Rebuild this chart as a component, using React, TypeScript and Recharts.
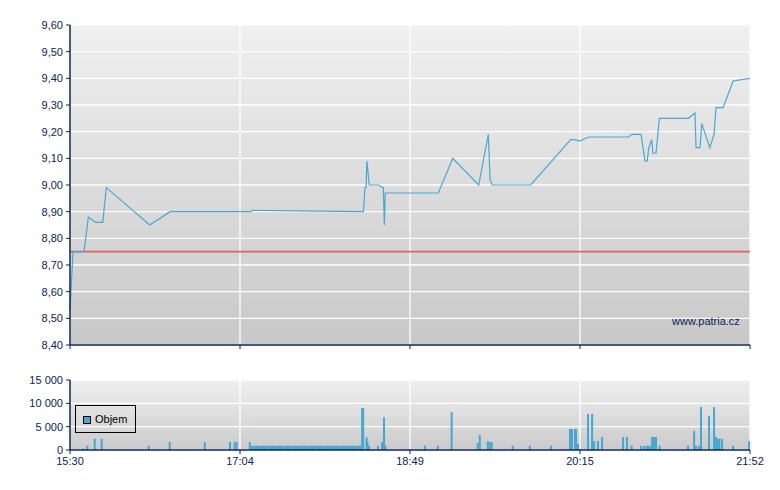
import React from 'react';
import { LineChart, Line, BarChart, Bar, XAxis, YAxis, CartesianGrid, ReferenceLine } from 'recharts';

// x positions are minutes-like units on the session scale (0 = 15:30, 382 = 21:52)
const xTicks = [0, 95.5, 191, 286.5, 382];
const xTickLabels = ['15:30', '17:04', '18:49', '20:15', '21:52'];

const priceTicks = [8.4, 8.5, 8.6, 8.7, 8.8, 8.9, 9.0, 9.1, 9.2, 9.3, 9.4, 9.5, 9.6];
const volumeTicks = [0, 5000, 10000, 15000];
const previousClose = 8.75;

const priceTimes = [
  0, 1.7, 7.9, 10.3, 14.4, 18.4, 20.4, 44.8, 56.3, 101.5, 102.4, 164.8, 165.7, 166.3, 166.8, 168.1,
  173.4, 175.7, 176.0, 176.6, 177.1, 206.9, 215.0, 229.6, 235.0, 236.0, 237.2, 258.8, 281.3, 283.7,
  286.0, 291.6, 313.7, 315.7, 320.8, 323.0, 324.3, 325.1, 326.8, 327.4, 329.2, 331.1, 347.4, 351.1,
  351.7, 353.9, 354.9, 359.4, 361.8, 362.9, 366.9, 372.5, 382,
];
const priceValues = [
  8.53, 8.75, 8.75, 8.88, 8.86, 8.86, 8.99, 8.85, 8.9, 8.9, 8.905, 8.9, 8.99, 8.99, 9.09, 9.0,
  9.0, 8.99, 8.99, 8.85, 8.97, 8.97, 9.1, 9.0, 9.19, 9.02, 9.0, 9.0, 9.17, 9.17,
  9.165, 9.18, 9.18, 9.19, 9.19, 9.09, 9.09, 9.14, 9.17, 9.12, 9.12, 9.25, 9.25, 9.27,
  9.14, 9.14, 9.23, 9.14, 9.19, 9.29, 9.29, 9.39, 9.4,
];

const volumeTimes = [
  7.5, 9.7, 13.9, 17.8, 44.2, 56.0, 75.7, 89.9, 92.5, 93.6, 101.0,
  102, 103, 104, 105, 106, 107, 108, 109, 110, 111, 112, 113, 114, 115, 116, 117, 118, 119, 120, 121,
  122, 123, 124, 125, 126, 127, 128, 129, 130, 131, 132, 133, 134, 135, 136, 137, 138, 139, 140, 141,
  142, 143, 144, 145, 146, 147, 148, 149, 150, 151, 152, 153, 154, 155, 156, 157, 158, 159, 160, 161,
  162, 163,
  164.1, 164.7, 166.6, 167.1, 168.0, 173.0, 175.3, 176.4, 177.2,
  199.4, 206.6, 214.4, 229.0, 230.2, 234.7, 235.8, 236.9, 248.7, 258.3, 270.2,
  280.9, 282.0, 283.7, 284.3, 285.4, 291.0, 293.3, 294.4, 296.6, 298.9, 310.7, 312.9, 315.5,
  320.8, 322.5, 323.9, 324.7, 326.0, 327.0, 328.1, 329.2, 331.2,
  347.2, 350.6, 351.7, 353.4, 354.5, 359.0, 361.8, 362.9, 364.0, 364.8, 366.3, 372.5, 381.5,
];
const volumeValues = [
  300, 900, 2400, 2400, 900, 1700, 1700, 1700, 1700, 1700, 1700,
  900, 900, 900, 900, 900, 900, 900, 900, 900, 900, 900, 900, 900, 900, 900, 900, 900, 900, 900, 900,
  900, 900, 900, 900, 900, 900, 900, 900, 900, 900, 900, 900, 900, 900, 900, 900, 900, 900, 900, 900,
  900, 900, 900, 900, 900, 900, 900, 900, 900, 900, 900, 900, 900, 900, 900, 900, 900, 900, 900, 900,
  900, 900,
  9000, 9000, 2700, 1800, 900, 900, 1700, 7000, 900,
  900, 900, 8100, 1500, 3200, 1900, 1700, 1700, 900, 900, 900,
  4500, 4500, 4500, 4500, 1300, 7700, 7700, 1900, 1900, 2800, 2800, 2800, 900,
  900, 900, 900, 900, 900, 2800, 2800, 2800, 900,
  900, 4100, 900, 900, 9200, 7300, 9200, 2800, 2400, 2400, 2400, 900, 1900,
];

const priceData = priceTimes.map((t, i) => ({ t, p: priceValues[i] }));
const volumeData = volumeTimes.map((t, i) => ({ t, v: volumeValues[i] }));

const NAVY = '#0b2457';
const LINE = '#4aa7d1';
const BAR = '#48a6d0';
const FONT = '"Liberation Sans", Arial, sans-serif';
const tickStyle = { fill: NAVY, fontSize: 11, fontFamily: FONT };

const fmtPrice = (v: number) => v.toFixed(2).replace('.', ',');
const fmtVol = (v: number) => String(v).replace(/\B(?=(\d{3})+(?!\d))/g, ' ');
const fmtTime = (v: number) => {
  const i = xTicks.findIndex((x) => Math.abs(x - v) < 0.01);
  return i >= 0 ? xTickLabels[i] : '';
};

const VolumeBarShape = (props: any) => {
  const { x, y, width, height } = props;
  if (x == null || y == null || !height) return <g />;
  const cx = x + width / 2;
  return <rect x={cx - 1} y={y} width={2} height={height} fill={BAR} />;
};

export default function App() {
  return (
    <div style={{ position: 'absolute', left: 0, top: 0, width: 780, height: 490, background: '#fff', fontFamily: FONT }}>
      <div style={{ position: 'absolute', left: 0, top: 0 }}>
        <LineChart width={780} height={360} data={priceData} margin={{ top: 25, right: 30, left: 0, bottom: 0 }}>
          <defs>
            <linearGradient id="bgPrice" x1="0" y1="0" x2="0" y2="1">
              <stop offset="0%" stopColor="#f0f0f0" />
              <stop offset="100%" stopColor="#c8c8c8" />
            </linearGradient>
          </defs>
          <CartesianGrid fill="url(#bgPrice)" stroke="#ffffff" strokeWidth={1.3} />
          <XAxis
            dataKey="t"
            type="number"
            domain={[0, 382]}
            ticks={xTicks}
            tickFormatter={() => ''}
            height={15}
            stroke={NAVY}
            tickSize={4}
            axisLine={{ stroke: NAVY, strokeWidth: 1.5 }}
            tickLine={{ stroke: NAVY }}
          />
          <YAxis
            type="number"
            domain={[8.4, 9.6]}
            ticks={priceTicks}
            tickFormatter={fmtPrice}
            width={70}
            tick={tickStyle}
            tickSize={4}
            tickMargin={3}
            axisLine={{ stroke: NAVY, strokeWidth: 1.5 }}
            tickLine={{ stroke: NAVY }}
            interval={0}
          />
          <ReferenceLine y={previousClose} stroke="#e45f5f" strokeWidth={1.6} ifOverflow="extendDomain" />
          <Line
            type="linear"
            dataKey="p"
            stroke={LINE}
            strokeWidth={1.2}
            dot={false}
            isAnimationActive={false}
          />
        </LineChart>
      </div>
      <div
        style={{
          position: 'absolute',
          left: 672,
          top: 316,
          fontSize: 11,
          lineHeight: '11px',
          color: NAVY,
          fontFamily: FONT,
          whiteSpace: 'nowrap',
        }}
      >
        www.patria.cz
      </div>
      <div style={{ position: 'absolute', left: 0, top: 360 }}>
        <BarChart width={780} height={130} data={volumeData} margin={{ top: 20, right: 30, left: 0, bottom: 0 }}>
          <defs>
            <linearGradient id="bgVol" x1="0" y1="0" x2="0" y2="1">
              <stop offset="0%" stopColor="#efefef" />
              <stop offset="100%" stopColor="#cbcbcb" />
            </linearGradient>
          </defs>
          <CartesianGrid fill="url(#bgVol)" stroke="#ffffff" strokeWidth={1.3} />
          <XAxis
            dataKey="t"
            type="number"
            domain={[0, 382]}
            ticks={xTicks}
            tickFormatter={fmtTime}
            height={40}
            tick={tickStyle}
            tickSize={4}
            tickMargin={3}
            axisLine={{ stroke: NAVY, strokeWidth: 1.5 }}
            tickLine={{ stroke: NAVY }}
            interval={0}
          />
          <YAxis
            type="number"
            domain={[0, 15000]}
            ticks={volumeTicks}
            tickFormatter={fmtVol}
            width={70}
            tick={tickStyle}
            tickSize={4}
            tickMargin={3}
            axisLine={{ stroke: NAVY, strokeWidth: 1.5 }}
            tickLine={{ stroke: NAVY }}
            interval={0}
          />
          <Bar dataKey="v" fill={BAR} shape={VolumeBarShape} isAnimationActive={false} />
        </BarChart>
      </div>
      <div
        style={{
          position: 'absolute',
          left: 75,
          top: 405,
          width: 59,
          height: 26,
          border: '1px solid #000',
          boxSizing: 'content-box',
        }}
      >
        <div
          style={{
            position: 'absolute',
            left: 7,
            top: 10,
            width: 6,
            height: 6,
            background: BAR,
            border: '1px solid #000',
          }}
        />
        <div
          style={{
            position: 'absolute',
            left: 19,
            top: 8,
            fontSize: 11,
            lineHeight: '11px',
            color: '#000',
            fontFamily: FONT,
          }}
        >
          Objem
        </div>
      </div>
    </div>
  );
}
